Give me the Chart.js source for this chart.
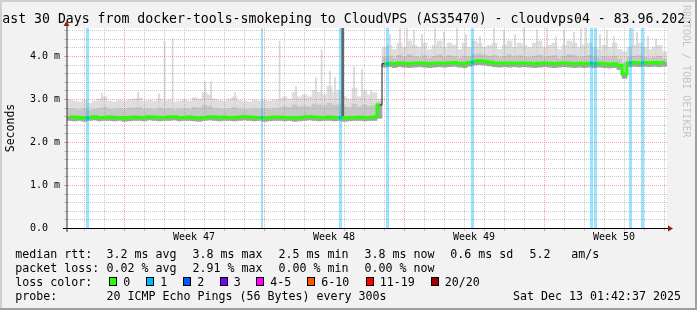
<!DOCTYPE html>
<html><head><meta charset="utf-8">
<style>html,body{margin:0;padding:0;background:#f2f2f2;}canvas{display:block;}</style>
<script src="https://cdn.jsdelivr.net/npm/chart.js@4.4.1/dist/chart.umd.min.js"></script>
</head><body>
<canvas id="c" width="697" height="310"></canvas>
<script>
// ---------- text ----------
const titleText = 'Last 30 Days from docker-tools-smokeping to CloudVPS (AS35470) - cloudvps04 - 83.96.202.';
const yAxisTitle = 'Seconds';
const watermark = 'RRDTOOL / TOBI OETIKER';
const weekLabels = ['Week 47', 'Week 48', 'Week 49', 'Week 50'];
const weekLabelDays = [6.35, 13.35, 20.35, 27.35];
const weekStartDays = [2.85, 9.85, 16.85, 23.85];
const yTickValues = [0, 1, 2, 3, 4];
const yTickLabels = ['0.0  ', '1.0 m', '2.0 m', '3.0 m', '4.0 m'];
const legendRow1 = ['median rtt:', '3.2 ms avg', '3.8 ms max', '2.5 ms min', '3.8 ms now', '0.6 ms sd', '5.2', 'am/s'];
const legendRow2 = ['packet loss:', '0.02 % avg', '2.91 % max', '0.00 % min', '0.00 % now'];
const legendRow3Head = 'loss color:';
const lossLabels = ['0', '1', '2', '3', '4-5', '6-10', '11-19', '20/20'];
const lossColors = ['#26ff00', '#00b8ff', '#0059ff', '#7e00ff', '#ff00ff', '#ff5500', '#ff0000', '#a10000'];
const legendRow4 = ['probe:', '20 ICMP Echo Pings (56 Bytes) every 300s', 'Sat Dec 13 01:42:37 2025'];

// ---------- data (ms; time in days from the start of the 30-day window) ----------
const COL_STEP = 0.25; // one smoke column = 6 hours
const smokeMedian = [
 2.57,2.58,2.57,2.56,2.57,2.59,2.57,2.57,2.58,2.57,
 2.57,2.56,2.57,2.58,2.57,2.57,2.59,2.58,2.57,2.57,
 2.58,2.59,2.57,2.57,2.58,2.57,2.56,2.57,2.59,2.58,
 2.57,2.58,2.57,2.57,2.58,2.59,2.58,2.57,2.57,2.56,
 2.57,2.58,2.58,2.57,2.57,2.56,2.57,2.58,2.59,2.58,
 2.57,2.57,2.58,2.57,2.57,2.56,2.57,2.57,2.58,2.57,
 2.57,2.58,2.86,
 3.82,3.83,3.82,3.84,3.83,3.82,3.83,
 3.84,3.83,3.82,3.83,3.84,3.83,3.84,3.85,3.83,3.82,
 3.85,3.88,3.89,3.88,3.86,3.84,3.83,3.84,3.83,3.84,
 3.83,3.84,3.83,3.82,3.83,3.84,3.83,3.82,3.83,3.84,
 3.83,3.82,3.83,3.82,3.83,3.82,3.83,3.82,3.81,3.82,
 3.78,3.58,3.84,3.85,3.84,3.85,3.84,3.85,3.84,3.85];
const smokeLow = [
 2.5,2.49,2.5,2.48,2.5,2.51,2.49,2.5,2.5,2.49,
 2.5,2.48,2.49,2.5,2.5,2.49,2.51,2.5,2.49,2.5,
 2.5,2.51,2.49,2.5,2.5,2.49,2.48,2.5,2.51,2.5,
 2.49,2.5,2.5,2.49,2.5,2.51,2.5,2.49,2.5,2.48,
 2.49,2.5,2.5,2.49,2.5,2.48,2.49,2.5,2.51,2.5,
 2.49,2.5,2.5,2.49,2.5,2.48,2.49,2.5,2.5,2.49,
 2.5,2.5,2.55,
 3.74,3.75,3.73,3.75,3.74,3.73,3.74,
 3.75,3.74,3.73,3.74,3.75,3.74,3.75,3.76,3.74,3.73,
 3.76,3.79,3.8,3.79,3.77,3.75,3.74,3.75,3.74,3.75,
 3.74,3.75,3.74,3.73,3.74,3.75,3.74,3.73,3.74,3.75,
 3.74,3.73,3.74,3.73,3.74,3.73,3.74,3.73,3.72,3.73,
 3.68,3.48,3.75,3.76,3.75,3.76,3.75,3.76,3.75,3.76];
const smokeUpper = [
 2.78,2.76,2.75,2.77,2.74,2.76,2.78,2.8,2.76,2.75,
 2.77,2.76,2.78,2.79,2.8,2.76,2.77,2.75,2.78,2.76,
 2.77,2.75,2.76,2.78,2.76,2.8,2.79,2.85,2.83,2.78,
 2.77,2.76,2.78,2.8,2.77,2.76,2.75,2.77,2.76,2.77,
 2.76,2.78,2.79,2.82,2.8,2.86,2.82,2.84,2.82,2.88,
 2.86,2.84,2.9,2.85,2.88,2.82,2.8,2.88,2.82,2.86,
 2.83,2.85,2.92,
 3.97,4.0,3.95,4.02,3.98,4.03,3.99,
 3.97,4.01,3.95,3.99,4.03,3.97,4.01,3.99,3.95,4.0,
 3.98,4.03,4.05,4.02,3.99,4.01,3.96,3.99,4.03,3.98,
 4.01,3.98,3.97,4.0,4.02,3.97,3.99,4.01,3.95,3.99,
 4.03,4.01,3.97,3.99,4.01,3.97,3.95,3.99,3.97,4.0,
 3.94,3.85,3.97,3.99,4.01,3.97,3.95,3.97,3.99,3.93];
const smokeTop = [
 2.98,2.95,2.93,2.97,2.9,2.95,3.0,3.05,2.95,2.93,
 2.97,2.95,2.98,3.0,3.02,2.95,2.97,2.95,3.0,2.95,
 2.97,2.93,2.95,2.98,2.95,3.03,3.0,3.15,3.1,3.0,
 2.97,2.95,3.0,3.05,2.97,2.95,2.93,2.97,2.95,2.97,
 2.95,2.98,3.0,3.05,3.0,3.15,3.05,3.1,3.05,3.2,
 3.15,3.1,3.3,3.15,3.2,3.05,3.0,3.25,3.05,3.2,
 3.1,3.15,3.0,
 4.2,4.25,4.15,4.3,4.2,4.35,4.25,
 4.2,4.3,4.15,4.25,4.35,4.2,4.3,4.25,4.15,4.3,
 4.2,4.35,4.3,4.2,4.25,4.3,4.15,4.25,4.35,4.2,
 4.3,4.25,4.2,4.3,4.35,4.2,4.25,4.3,4.15,4.25,
 4.35,4.3,4.2,4.25,4.3,4.2,4.15,4.25,4.2,4.3,
 4.15,4.1,4.2,4.25,4.3,4.2,4.15,4.2,4.25,4.1];
const spikeDays = [1.75,3.55,4.6,4.88,5.28,6.9,7.2,8.4,10.63,11.45,12.45,12.73,13.15,13.4,14.35,14.75,15.2,
 16.15,16.65,17.0,17.35,17.75,18.4,18.85,19.5,19.95,20.65,21.35,21.85,22.4,22.85,23.5,24.0,24.45,24.85,
 25.35,25.7,25.95,26.65,27.0,27.35,28.3,28.5,29.05,29.45];
const spikeTops = [3.14,3.15,3.12,4.33,4.4,3.4,3.4,3.15,4.35,3.3,3.5,4.15,3.65,3.5,3.75,3.7,3.2,
 4.5,4.65,4.65,4.6,4.5,4.65,4.55,4.65,4.5,4.45,4.65,4.6,4.5,4.65,4.6,4.65,4.45,4.6,
 4.55,4.65,4.65,4.5,4.6,4.45,4.65,4.55,4.45,4.4];
const darkSpikeDays = [13.78];
const darkSpikeTops = [4.65];
const lossStartDays = [0.95, 9.70, 13.60, 15.95, 20.20, 26.15, 26.35, 28.10, 28.70];
const lossEndDays   = [1.10, 9.80, 13.75, 16.10, 20.35, 26.30, 26.50, 28.25, 28.85];

// ---------- setup ----------
const MONO = "'DejaVu Sans Mono', monospace";
const DAYS = 30;
const Y_MAX = 200 / 43;
const GRID = 'rgba(150,150,150,0.5)';
const MGRID = 'rgba(240,90,90,0.55)';

const colDay = i => i * COL_STEP + COL_STEP / 2;
const colOf = d => Math.min(smokeMedian.length - 1, Math.floor(d / COL_STEP));

const bandLight = smokeTop.map((t, i) => ({x: colDay(i), y: [smokeUpper[i], t]}));
const bandMid = smokeUpper.map((u, i) => ({x: colDay(i), y: [smokeMedian[i], u]}));
const bandLow = smokeLow.map((l, i) => ({x: colDay(i), y: [l, smokeMedian[i]]}));
const spikes = spikeDays.map((d, k) => ({x: d, y: [smokeUpper[colOf(d)], spikeTops[k]]}));
const darkSpikes = darkSpikeDays.map((d, k) => ({x: d, y: [smokeMedian[colOf(d)], darkSpikeTops[k]]}));
const medianPts = smokeMedian.map((m, i) => ({x: colDay(i), y: m}));
const lossFill = [], lossMarks = [];
lossStartDays.forEach((s, k) => {
  const e = lossEndDays[k], m = smokeMedian[colOf(s)];
  lossFill.push({x: s, y: Y_MAX}, {x: e, y: Y_MAX}, {x: e + 0.001, y: null});
  lossMarks.push({x: s, y: m}, {x: e, y: m}, {x: e + 0.001, y: null});
});

function drawGrid(chart) {
  const {ctx, chartArea: a, scales: {x, y}} = chart;
  ctx.save();
  ctx.lineWidth = 1;
  for (let k = 1; k * 0.2 < Y_MAX; k++) {
    const v = k * 0.2, major = Math.abs(v - Math.round(v)) < 1e-6;
    const py = Math.round(y.getPixelForValue(v)) + 0.5;
    ctx.strokeStyle = major ? MGRID : GRID;
    ctx.setLineDash([1, 1]);
    ctx.beginPath(); ctx.moveTo(a.left + 1, py); ctx.lineTo(a.right, py); ctx.stroke();
    ctx.setLineDash([]);
    ctx.beginPath(); ctx.moveTo(a.left - 3, py); ctx.lineTo(a.left + 1, py); ctx.stroke();
  }
  for (let d = weekStartDays[0] % 1; d < DAYS; d += 1) {
    const major = weekStartDays.some(w => Math.abs(w - d) < 1e-6);
    const px = Math.round(x.getPixelForValue(d)) + 0.5;
    ctx.strokeStyle = major ? MGRID : GRID;
    ctx.setLineDash([1, 1]);
    ctx.beginPath(); ctx.moveTo(px, a.top); ctx.lineTo(px, a.bottom); ctx.stroke();
    ctx.setLineDash([]);
    ctx.beginPath(); ctx.moveTo(px, a.bottom); ctx.lineTo(px, a.bottom + 3); ctx.stroke();
  }
  ctx.restore();
}

function drawAxes(chart) {
  const {ctx, chartArea: a} = chart;
  ctx.save();
  ctx.setLineDash([]);
  ctx.lineWidth = 1;
  ctx.strokeStyle = '#000';
  ctx.beginPath(); ctx.moveTo(a.left - 4, a.bottom + 0.5); ctx.lineTo(a.right + 2, a.bottom + 0.5); ctx.stroke();
  ctx.strokeStyle = '#333';
  ctx.beginPath(); ctx.moveTo(a.left, a.bottom + 4); ctx.lineTo(a.left, a.top - 3); ctx.stroke();
  ctx.fillStyle = '#8c1c1c';
  ctx.beginPath(); ctx.moveTo(a.right + 6, a.bottom + 0.5); ctx.lineTo(a.right + 1, a.bottom - 2.5); ctx.lineTo(a.right + 1, a.bottom + 3.5); ctx.closePath(); ctx.fill();
  ctx.beginPath(); ctx.moveTo(a.left - 0.5, a.top - 7); ctx.lineTo(a.left - 3.5, a.top - 2); ctx.lineTo(a.left + 2.5, a.top - 2); ctx.closePath(); ctx.fill();
  ctx.restore();
}

function drawTexts(chart) {
  const ctx = chart.ctx;
  ctx.save();
  ctx.fillStyle = '#000';
  ctx.textBaseline = 'alphabetic';
  ctx.textAlign = 'left';
  ctx.font = "13.2px " + MONO;
  ctx.fillText(titleText, -5.6, 23);
  ctx.font = "11.63px " + MONO;
  const row1X = [15.3, 106.6, 192.6, 278.6, 364.6, 450.3, 529.6, 571.3];
  legendRow1.forEach((t, i) => ctx.fillText(t, row1X[i], 257.8));
  const row2X = [15.3, 106.6, 192.6, 278.6, 364.6];
  legendRow2.forEach((t, i) => ctx.fillText(t, row2X[i], 271.8));
  ctx.fillText(legendRow3Head, 15.3, 285.8);
  const boxX = [109, 146, 183, 219.5, 256, 307, 365.5, 430.5];
  lossLabels.forEach((t, i) => {
    const bx = Math.round(boxX[i]);
    ctx.fillStyle = lossColors[i];
    ctx.fillRect(bx, 277, 8, 9);
    ctx.strokeStyle = '#000'; ctx.lineWidth = 1;
    ctx.strokeRect(bx + 0.5, 277.5, 7, 8);
    ctx.fillStyle = '#000';
    ctx.fillText(t, boxX[i] + 14.3, 285.8);
  });
  const row4X = [15.3, 106.6, 513];
  legendRow4.forEach((t, i) => ctx.fillText(t, row4X[i], 299.6));
  // watermark
  ctx.translate(683, 5);
  ctx.rotate(Math.PI / 2);
  ctx.fillStyle = '#c4c4c4';
  ctx.font = "10px " + MONO;
  ctx.fillText(watermark, 0, 0);
  ctx.restore();
}

function drawFrame(chart) {
  const ctx = chart.ctx, W = chart.width, H = chart.height;
  ctx.save();
  ctx.fillStyle = '#d0d0d0';
  ctx.fillRect(0, 0, W, 2); ctx.fillRect(0, 0, 2, H);
  ctx.fillStyle = '#a0a0a0';
  ctx.fillRect(W - 2, 0, 2, H); ctx.fillRect(0, H - 2, W, 2);
  ctx.restore();
}

const rrdPlugin = {
  id: 'rrd',
  beforeDraw(chart) {
    const {ctx, chartArea: a} = chart;
    ctx.save();
    ctx.fillStyle = '#f2f2f2'; ctx.fillRect(0, 0, chart.width, chart.height);
    ctx.fillStyle = '#ffffff'; ctx.fillRect(a.left, a.top, a.right - a.left, a.bottom - a.top);
    ctx.restore();
  },
  afterDatasetDraw(chart, args) {
    if (chart.data.datasets[args.index].id === 'darkspike') drawGrid(chart);
  },
  afterDatasetsDraw(chart) { drawAxes(chart); },
  afterDraw(chart) { drawTexts(chart); drawFrame(chart); }
};

Chart.defaults.font.family = MONO;
new Chart(document.getElementById('c'), {
  type: 'bar',
  data: {
    datasets: [
      {type: 'bar', label: 'smoke high', data: bandLight, backgroundColor: '#dedede', barThickness: 5, grouped: false, order: 20},
      {type: 'bar', label: 'smoke spikes', data: spikes, backgroundColor: '#d6d6d6', barThickness: 1, grouped: false, order: 19},
      {type: 'bar', label: 'smoke mid', data: bandMid, backgroundColor: '#c6c6c6', barThickness: 5, grouped: false, order: 18},
      {type: 'bar', label: 'smoke low', data: bandLow, backgroundColor: '#a4a4a4', barThickness: 5, grouped: false, order: 17},
      {type: 'bar', id: 'darkspike', label: 'smoke dark', data: darkSpikes, backgroundColor: '#5e5e5e', barThickness: 2, grouped: false, order: 16},
      {type: 'line', label: 'loss', data: lossFill, fill: 'origin', backgroundColor: 'rgba(0,184,255,0.4)', borderWidth: 0, pointRadius: 0, spanGaps: false, order: 10},
      {type: 'line', label: 'median base', data: medianPts, stepped: 'middle', borderColor: '#1e1e1e', borderWidth: 1, pointRadius: 0, fill: false, order: 3},
      {type: 'line', label: 'median', data: medianPts, stepped: 'middle', borderColor: '#26ff00', borderWidth: 3, pointRadius: 0, fill: false, order: 2,
        segment: {borderColor: c => Math.abs(c.p0.parsed.y - c.p1.parsed.y) > 0.5 ? 'rgba(0,0,0,0)' : '#26ff00'}},
      {type: 'line', label: 'loss 1', data: lossMarks, borderColor: '#00b8ff', borderWidth: 3, pointRadius: 0, fill: false, spanGaps: false, order: 1}
    ]
  },
  options: {
    responsive: false, animation: false, devicePixelRatio: 1, events: [],
    layout: {padding: {left: 0, top: 28, right: 30, bottom: 0}},
    plugins: {legend: {display: false}, tooltip: {enabled: false}, title: {display: false}},
    scales: {
      x: {type: 'linear', min: 0, max: DAYS, offset: false,
          grid: {display: false, drawTicks: false, offset: false}, border: {display: false},
          ticks: {font: {family: MONO, size: 10}, color: '#000', padding: 3, autoSkip: false, maxRotation: 0,
                  callback: (v, i) => weekLabels[i]},
          afterBuildTicks: s => { s.ticks = weekLabelDays.map(v => ({value: v})); },
          afterFit: s => { s.height = 82; }},
      y: {type: 'linear', min: 0, max: Y_MAX,
          grid: {display: false, drawTicks: false}, border: {display: false},
          ticks: {font: {family: MONO, size: 10}, color: '#000', padding: 7,
                  callback: (v, i) => yTickLabels[i]},
          afterBuildTicks: s => { s.ticks = yTickValues.map(v => ({value: v})); },
          afterFit: s => { s.width = 67; },
          title: {display: true, text: yAxisTitle, color: '#000', font: {family: MONO, size: 11.5}, padding: 4}}
    }
  },
  plugins: [rrdPlugin]
});
</script>
</body></html>
